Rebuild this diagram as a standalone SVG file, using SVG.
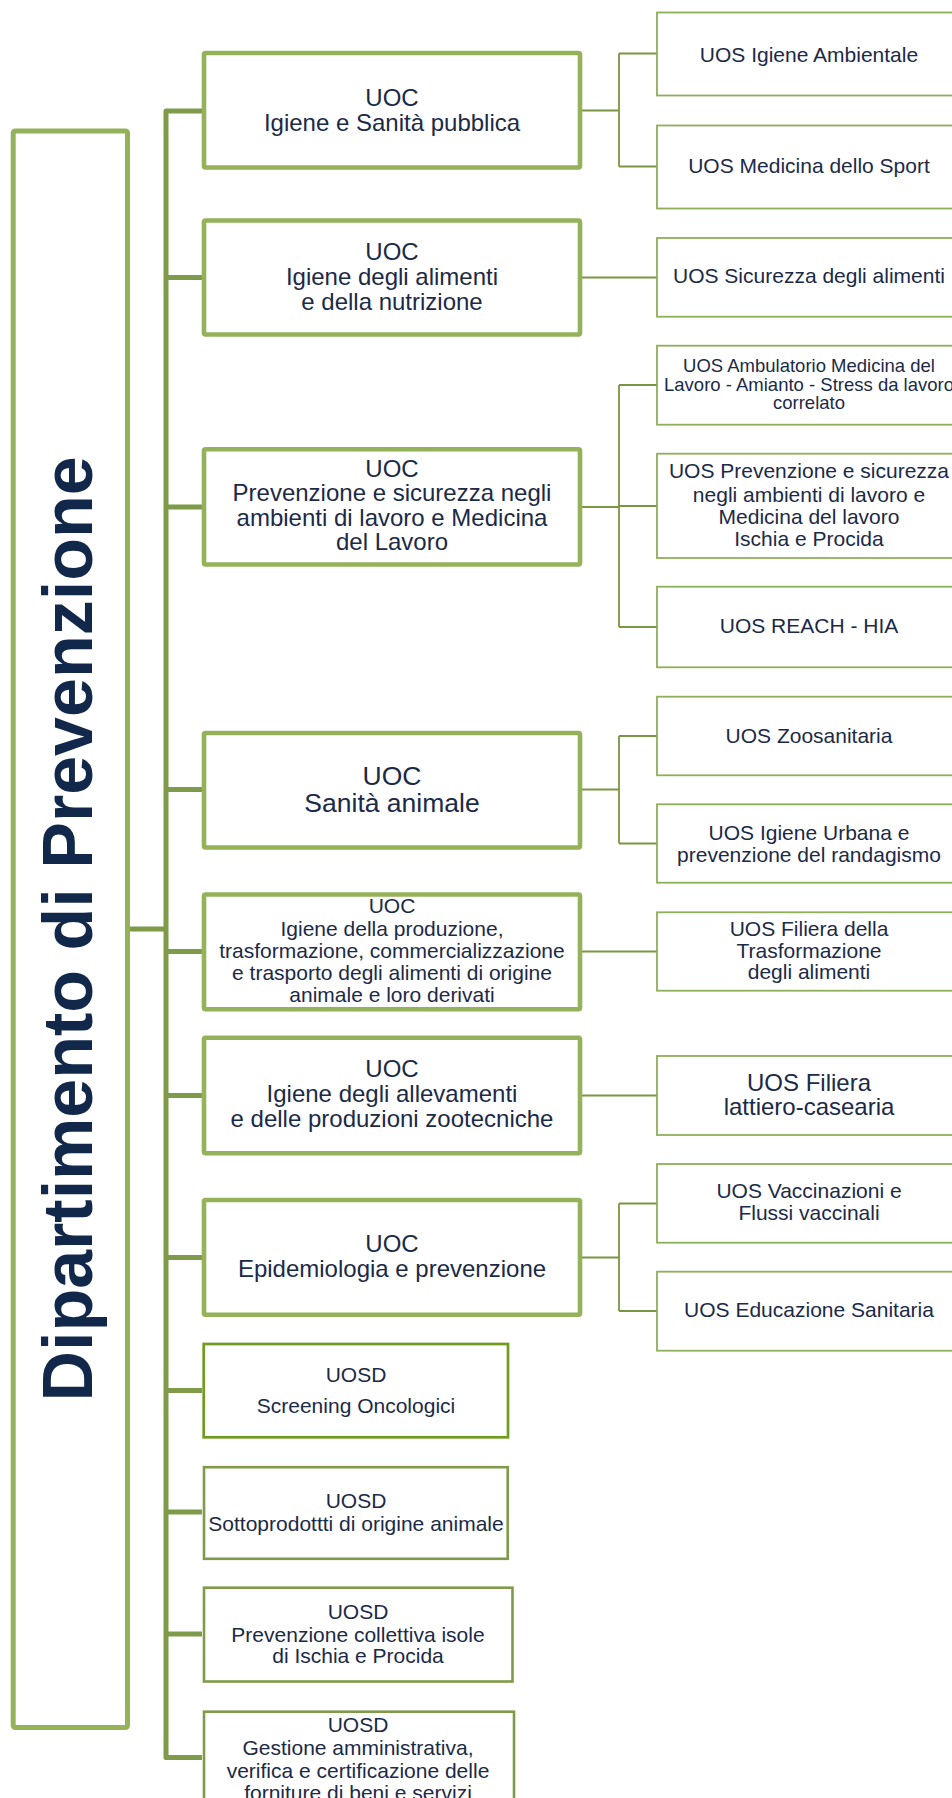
<svg xmlns="http://www.w3.org/2000/svg" width="952" height="1798" viewBox="0 0 952 1798">
<style>
text{font-family:"Liberation Sans",Arial,sans-serif;fill:#1b2a47;text-anchor:middle}
.f24{font-size:24px}.f21{font-size:21px}.f26{font-size:26.5px}.f18{font-size:18.5px}
.uoc{fill:#fff;stroke:#94b25a;stroke-width:4.6}
.uos{fill:#fff;stroke:#8fae58;stroke-width:1.8}
.uosd{fill:#fff;stroke:#7f9a48;stroke-width:2.6}
.uosd1{fill:#fff;stroke:#6f9c1e;stroke-width:2.7}
.dept{fill:#fff;stroke:#94b25a;stroke-width:5}
.spine{fill:none;stroke:#7f9a48;stroke-width:5;stroke-linejoin:round}
.thin{fill:none;stroke:#7a9642;stroke-width:1.8}
.title{font-size:70px;font-weight:bold;fill:#12284a}
</style>
<rect width="952" height="1798" fill="#fff"/>
<g id="connectors">
<path class="spine" d="M202,111 H166 V1757.5 H202 M166,277.5 H202 M166,507 H202 M166,789.5 H202 M166,951.5 H202 M166,1095.5 H202 M166,1257.5 H202 M166,1390.5 H202 M166,1512 H202 M166,1634 H202 M130,929 H166"/>
<path class="thin" d="M582,110.5 H619 M619,53.5 V166.5 M619,53.5 H657 M619,166.5 H657"/>
<path class="thin" d="M582,277.5 H657"/>
<path class="thin" d="M582,507 H619 M619,385 V627 M619,385 H657 M619,506 H657 M619,627 H657"/>
<path class="thin" d="M582,789.5 H619 M619,736 V843.5 M619,736 H657 M619,843.5 H657"/>
<path class="thin" d="M582,951.5 H657"/>
<path class="thin" d="M582,1095.5 H657"/>
<path class="thin" d="M582,1257.5 H619 M619,1203.5 V1311 M619,1203.5 H657 M619,1311 H657"/>
</g>
<g id="dept">
<rect class="dept" x="13.2" y="131" width="114.3" height="1596.5" rx="2"/>
<text class="title" transform="translate(91.7,929) rotate(-90)">Dipartimento di Prevenzione</text>
</g>
<g id="uoc1">
<rect class="uoc" x="204" y="53" width="376" height="114.5" rx="1.5"/>
<text class="f24" x="392" y="106">UOC</text>
<text class="f24" x="392" y="130.5">Igiene e Sanità pubblica</text>
</g>
<g id="uoc2">
<rect class="uoc" x="204" y="220.5" width="376" height="114" rx="1.5"/>
<text class="f24" x="392" y="259.5">UOC</text>
<text class="f24" x="392" y="284.5">Igiene degli alimenti</text>
<text class="f24" x="392" y="309.5">e della nutrizione</text>
</g>
<g id="uoc3">
<rect class="uoc" x="204" y="449.2" width="376" height="115.3" rx="1.5"/>
<text class="f24" x="392" y="476.7">UOC</text>
<text class="f24" x="392" y="501.3">Prevenzione e sicurezza negli</text>
<text class="f24" x="392" y="525.8">ambienti di lavoro e Medicina</text>
<text class="f24" x="392" y="550.2">del Lavoro</text>
</g>
<g id="uoc4">
<rect class="uoc" x="204" y="733" width="376" height="114.5" rx="1.5"/>
<text class="f26" x="392" y="785">UOC</text>
<text class="f26" x="392" y="812">Sanità animale</text>
</g>
<g id="uoc5">
<rect class="uoc" x="204" y="894.5" width="376" height="114.7" rx="1.5"/>
<text class="f21" x="392" y="913.3">UOC</text>
<text class="f21" x="392" y="936">Igiene della produzione,</text>
<text class="f21" x="392" y="958.3">trasformazione, commercializzazione</text>
<text class="f21" x="392" y="980.3">e trasporto degli alimenti di origine</text>
<text class="f21" x="392" y="1002.3">animale e loro derivati</text>
</g>
<g id="uoc6">
<rect class="uoc" x="204" y="1037.7" width="376" height="115.6" rx="1.5"/>
<text class="f24" x="392" y="1077.3">UOC</text>
<text class="f24" x="392" y="1102">Igiene degli allevamenti</text>
<text class="f24" x="392" y="1126.7">e delle produzioni zootecniche</text>
</g>
<g id="uoc7">
<rect class="uoc" x="204" y="1200" width="376" height="114.8" rx="1.5"/>
<text class="f24" x="392" y="1252.3">UOC</text>
<text class="f24" x="392" y="1276.7">Epidemiologia e prevenzione</text>
</g>
<g id="uosd1">
<rect class="uosd1" x="203.7" y="1344" width="304.3" height="93.3"/>
<text class="f21" x="356" y="1381.7">UOSD</text>
<text class="f21" x="356" y="1412.7">Screening Oncologici</text>
</g>
<g id="uosd2">
<rect class="uosd" x="204" y="1467.2" width="303.7" height="91.6"/>
<text class="f21" x="356" y="1508.3">UOSD</text>
<text class="f21" x="356" y="1530.7">Sottoprodottti di origine animale</text>
</g>
<g id="uosd3">
<rect class="uosd" x="204" y="1587.7" width="308.5" height="93.8"/>
<text class="f21" x="358" y="1619.3">UOSD</text>
<text class="f21" x="358" y="1641.7">Prevenzione collettiva isole</text>
<text class="f21" x="358" y="1663.3">di Ischia e Procida</text>
</g>
<g id="uosd4">
<rect class="uosd" x="204" y="1711.7" width="310" height="120"/>
<text class="f21" x="358" y="1731.7">UOSD</text>
<text class="f21" x="358" y="1755">Gestione amministrativa,</text>
<text class="f21" x="358" y="1778.3">verifica e certificazione delle</text>
<text class="f21" x="358" y="1800">forniture di beni e servizi</text>
</g>
<g id="uos1">
<rect class="uos" x="657" y="12.5" width="304" height="83"/>
<text class="f21" x="809" y="61.7">UOS Igiene Ambientale</text>
</g>
<g id="uos2">
<rect class="uos" x="657" y="125.5" width="304" height="83"/>
<text class="f21" x="809" y="173.3">UOS Medicina dello Sport</text>
</g>
<g id="uos3">
<rect class="uos" x="657" y="238" width="304" height="78.7"/>
<text class="f21" x="809" y="283.3">UOS Sicurezza degli alimenti</text>
</g>
<g id="uos4">
<rect class="uos" x="657" y="345.7" width="304" height="79"/>
<text class="f18" x="809" y="372.3">UOS Ambulatorio Medicina del</text>
<text class="f18" x="809" y="391">Lavoro - Amianto - Stress da lavoro</text>
<text class="f18" x="809" y="409.3">correlato</text>
</g>
<g id="uos5">
<rect class="uos" x="657" y="453.7" width="304" height="104.3"/>
<text class="f21" x="809" y="478.3">UOS Prevenzione e sicurezza</text>
<text class="f21" x="809" y="501.7">negli ambienti di lavoro e</text>
<text class="f21" x="809" y="524">Medicina del lavoro</text>
<text class="f21" x="809" y="546">Ischia e Procida</text>
</g>
<g id="uos6">
<rect class="uos" x="657" y="586.7" width="304" height="80.6"/>
<text class="f21" x="809" y="632.7">UOS REACH - HIA</text>
</g>
<g id="uos7">
<rect class="uos" x="657" y="696.7" width="304" height="78.6"/>
<text class="f21" x="809" y="742.7">UOS Zoosanitaria</text>
</g>
<g id="uos8">
<rect class="uos" x="657" y="804.3" width="304" height="78.4"/>
<text class="f21" x="809" y="840">UOS Igiene Urbana e</text>
<text class="f21" x="809" y="861.7">prevenzione del randagismo</text>
</g>
<g id="uos9">
<rect class="uos" x="657" y="912.3" width="304" height="78.4"/>
<text class="f21" x="809" y="935.7">UOS Filiera della</text>
<text class="f21" x="809" y="957.7">Trasformazione</text>
<text class="f21" x="809" y="979.3">degli alimenti</text>
</g>
<g id="uos10">
<rect class="uos" x="657" y="1056" width="304" height="79"/>
<text class="f24" x="809" y="1090.7">UOS Filiera</text>
<text class="f24" x="809" y="1115">lattiero-casearia</text>
</g>
<g id="uos11">
<rect class="uos" x="657" y="1164" width="304" height="78.7"/>
<text class="f21" x="809" y="1198.3">UOS Vaccinazioni e</text>
<text class="f21" x="809" y="1220">Flussi vaccinali</text>
</g>
<g id="uos12">
<rect class="uos" x="657" y="1271.7" width="304" height="79"/>
<text class="f21" x="809" y="1317.3">UOS Educazione Sanitaria</text>
</g>
</svg>
